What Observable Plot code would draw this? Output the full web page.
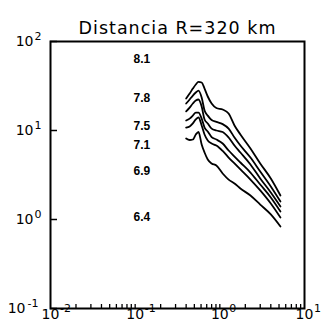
<!DOCTYPE html>
<html>
<head>
<meta charset="utf-8">
<script src="https://cdn.jsdelivr.net/npm/d3@7"></script>
<script src="https://cdn.jsdelivr.net/npm/@observablehq/plot@0.6"></script>
<style>
  html, body { margin: 0; padding: 0; background: white; }
</style>
</head>
<body>
<div id="chart"></div>
<script>
// Frequency values (Hz) shared by all curves
const freq = [0.40, 0.44, 0.48, 0.52, 0.56, 0.61, 0.66, 0.72, 0.80, 0.91, 1.08, 1.27, 1.49, 1.75, 2.3, 3.0, 4.0, 5.2];
// Spectral amplitude for each magnitude
const amp81 = [22.9, 26.0, 29.6, 32.9, 35.1, 34.6, 29.6, 24.1, 20.1, 17.9, 17.2, 15.5, 11.4, 9.02, 6.28, 4.26, 2.89, 1.86];
const amp78 = [20.1, 22.3, 24.7, 26.7, 28.1, 23.5, 16.8, 14.7, 13.1, 12.5, 11.8, 10.5, 8.34, 6.78, 4.97, 3.46, 2.35, 1.59];
const amp75 = [16.4, 18.1, 20.1, 21.7, 22.3, 18.6, 13.3, 12.0, 10.5, 10.0, 9.62, 8.34, 6.78, 5.66, 4.15, 2.89, 2.01, 1.40];
const amp71 = [12.95, 13.6, 14.7, 15.9, 15.9, 13.6, 10.8, 9.74, 8.45, 7.92, 7.14, 5.96, 5.10, 4.37, 3.37, 2.47, 1.77, 1.23];
const amp69 = [10.8, 11.1, 12.0, 13.3, 14.0, 11.4, 9.02, 7.72, 7.14, 6.78, 5.89, 4.97, 4.26, 3.65, 2.81, 2.12, 1.51, 1.05];
const amp64 = [8.13, 7.82, 7.92, 9.02, 9.62, 6.96, 5.66, 4.72, 4.26, 4.04, 3.29, 2.81, 2.54, 2.23, 1.86, 1.47, 1.14, 0.834];

// Magnitude labels
const magLabels = ["8.1", "7.8", "7.5", "7.1", "6.9", "6.4"];
const magLabelY = [62.8, 22.9, 11.1, 6.8, 3.46, 1.05];
const magLabelX = 0.12;

// Axis ticks
const xMajor = [0.01, 0.1, 1, 10];
const xExp = ["-2", "-1", "0", "1"];
const yMajor = [0.1, 1, 10, 100];
const yExp = ["-1", "0", "1", "2"];
const xMinor = [0.02,0.03,0.04,0.05,0.06,0.07,0.08,0.09,0.1,
                0.2,0.3,0.4,0.5,0.6,0.7,0.8,0.9,1,
                2,3,4,5,6,7,8,9];

const titleText = "Distancia R=320 km";

const series = [amp81, amp78, amp75, amp71, amp69, amp64];
const lineData = [];
series.forEach((arr, i) => arr.forEach((v, j) => lineData.push({f: freq[j], a: v, m: magLabels[i]})));
const magData = magLabels.map((t, i) => ({t, y: magLabelY[i], x: magLabelX}));
const xLab = xMajor.map((v, i) => ({v, e: xExp[i]}));
const yLab = yMajor.map((v, i) => ({v, e: yExp[i]}));

const W = 321, H = 333, mT = 41, mB = 25, mL = 50, mR = 17;
const fw = W - mL - mR, fh = H - mT - mB;

const chart = Plot.plot({
  width: W, height: H,
  marginTop: mT, marginBottom: mB, marginLeft: mL, marginRight: mR,
  style: {fontFamily: "DejaVu Sans", background: "white", color: "black", overflow: "visible"},
  x: {type: "log", domain: [0.01, 10], axis: null},
  y: {type: "log", domain: [0.1, 100], axis: null},
  marks: [
    Plot.tickX(xMinor, {x: d => d, stroke: "black", strokeWidth: 1.3, insetTop: fh - 4}),
    Plot.tickY(yMajor, {y: d => d, stroke: "black", strokeWidth: 1.5, insetRight: fw - 7}),
    Plot.frame({stroke: "black", strokeWidth: 2}),
    Plot.line(lineData, {x: "f", y: "a", z: "m", stroke: "black", strokeWidth: 1.8, curve: "monotone-x"}),
    Plot.text(magData, {x: "x", y: "y", text: "t", fontFamily: "Liberation Sans", fontWeight: "bold", fontSize: 12, fill: "black"}),
    // x labels
    Plot.text(xLab, {x: "v", text: () => "10", frameAnchor: "bottom", dy: 10, fontSize: 14, fill: "black", textAnchor: "middle"}),
    Plot.text(xLab, {x: "v", text: "e", frameAnchor: "bottom", dy: 3, dx: 9.5, fontSize: 11, fill: "black", textAnchor: "start"}),
    // y labels
    Plot.text(yLab.filter(d => d.e.length === 1), {y: "v", text: () => "10", frameAnchor: "left", dx: -17, fontSize: 14, fill: "black", textAnchor: "end"}),
    Plot.text(yLab.filter(d => d.e.length === 1), {y: "v", text: "e", frameAnchor: "left", dx: -16, dy: -5, fontSize: 11, fill: "black", textAnchor: "start"}),
    Plot.text(yLab.filter(d => d.e.length > 1), {y: "v", text: () => "10", frameAnchor: "left", dx: -25, fontSize: 14, fill: "black", textAnchor: "end"}),
    Plot.text(yLab.filter(d => d.e.length > 1), {y: "v", text: "e", frameAnchor: "left", dx: -23, dy: -5, fontSize: 11, fill: "black", textAnchor: "start"}),
    // title
    Plot.text([titleText], {text: d => d, frameAnchor: "top", dy: -20, fontSize: 17.5, fill: "black", textAnchor: "middle"})
  ]
});
d3.select(chart).selectAll("text").filter(function() { return this.textContent === titleText; }).attr("letter-spacing", "1");
document.getElementById("chart").appendChild(chart);
</script>
</body>
</html>
